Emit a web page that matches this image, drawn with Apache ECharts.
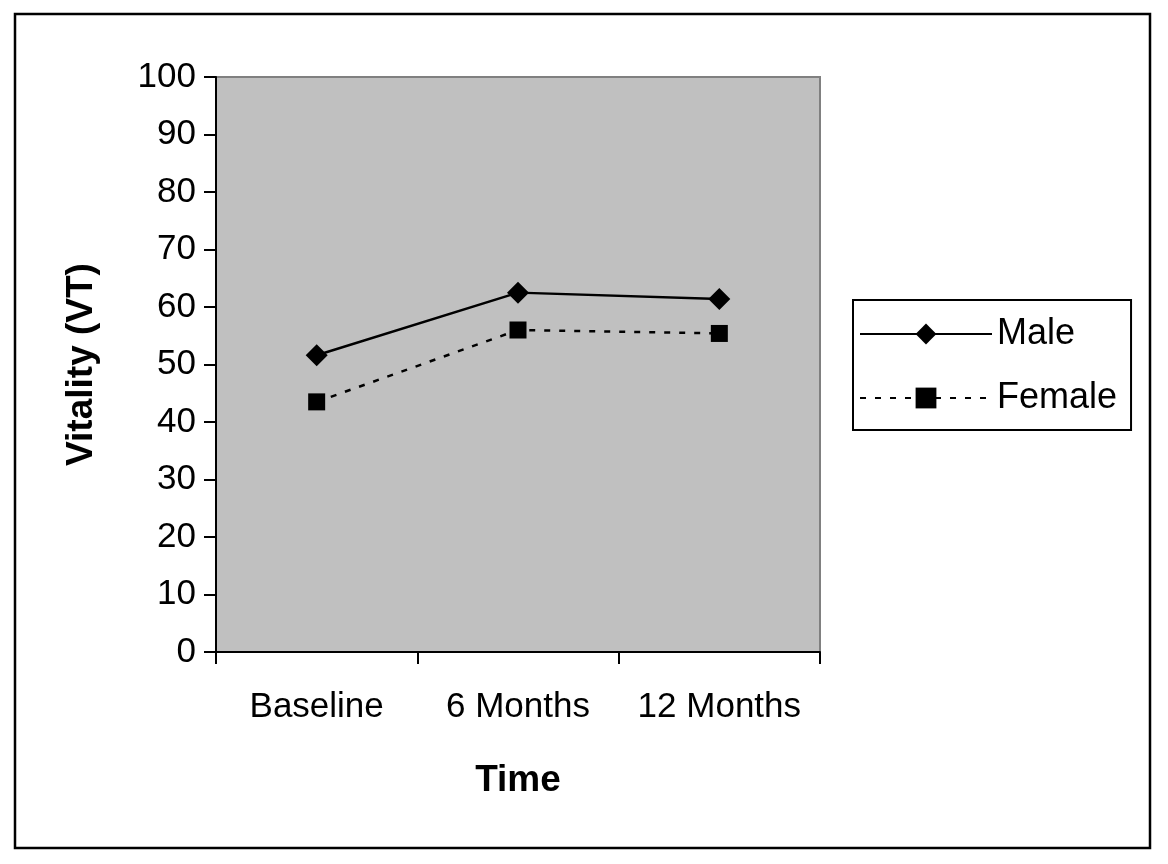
<!DOCTYPE html>
<html><head><meta charset="utf-8">
<script src="https://cdn.jsdelivr.net/npm/echarts@6/dist/echarts.min.js"></script>
<style>html,body{margin:0;padding:0;background:#fff}#c{width:1168px;height:864px}</style>
</head><body><div id="c"></div>
<script>
var categories = ['Baseline', '6 Months', '12 Months'];
var maleValues = [51.6, 62.5, 61.4];
var femaleValues = [43.5, 56.0, 55.4];
var seriesNames = ['Male', 'Female'];

var chart = echarts.init(document.getElementById('c'));
var font = 'Liberation Sans, Arial, sans-serif';
chart.setOption({
  animation: false,
  backgroundColor: '#fff',
  textStyle: {fontFamily: font},
  graphic: [{
    type: 'rect', shape: {x: 15, y: 14, width: 1135, height: 834},
    style: {fill: 'none', stroke: '#000', lineWidth: 2.5}, z: 0
  }],
  grid: {left: 216, right: 348, top: 77, bottom: 212, show: true, backgroundColor: '#C0C0C0', borderColor: '#808080', borderWidth: 2},
  legend: {
    orient: 'vertical', left: 853, top: 300,
    itemWidth: 132, itemHeight: 26, itemGap: 28,
    padding: [16, 14, 14, 6],
    borderColor: '#000', borderWidth: 2,
    textStyle: {fontSize: 36, color: '#000', fontFamily: font},
    data: seriesNames
  },
  xAxis: {
    type: 'category', data: categories, boundaryGap: true,
    name: 'Time', nameLocation: 'middle', nameGap: 110,
    nameTextStyle: {fontSize: 37, fontWeight: 'bold', color: '#000', fontFamily: font},
    axisLine: {lineStyle: {color: '#000', width: 2}},
    axisTick: {show: true, interval: 0, length: 12, lineStyle: {color: '#000', width: 2}},
    axisLabel: {fontSize: 35, interval: 0, hideOverlap: false, color: '#000', margin: 38, fontFamily: font},
    splitLine: {show: false}
  },
  yAxis: {
    type: 'value', min: 0, max: 100, interval: 10,
    name: 'Vitality (VT)', nameLocation: 'middle', nameGap: 116,
    nameTextStyle: {fontSize: 37, fontWeight: 'bold', color: '#000', fontFamily: font},
    axisLine: {show: true, lineStyle: {color: '#000', width: 2}},
    axisTick: {show: true, length: 12, lineStyle: {color: '#000', width: 2}},
    axisLabel: {fontSize: 35, color: '#000', margin: 20, fontFamily: font},
    splitLine: {show: false}
  },
  series: [{
    name: seriesNames[0], type: 'line', data: maleValues,
    symbol: 'diamond', symbolSize: 22,
    lineStyle: {color: '#000', width: 2.5, type: 'solid'},
    itemStyle: {color: '#000'}
  }, {
    name: seriesNames[1], type: 'line', data: femaleValues,
    symbol: 'rect', symbolSize: 17,
    lineStyle: {color: '#000', width: 2.5, type: [6, 9]},
    itemStyle: {color: '#000'}
  }]
});
</script></body></html>
